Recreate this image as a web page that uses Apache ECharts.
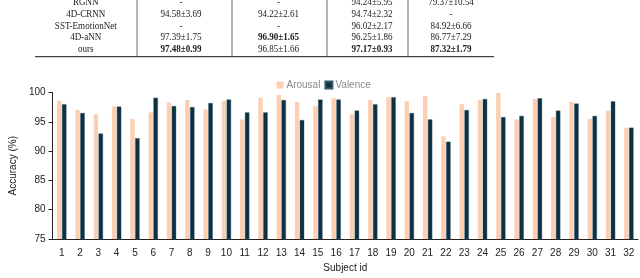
<!DOCTYPE html>
<html><head><meta charset="utf-8">
<style>html,body{margin:0;padding:0;background:#fff;}#c{width:640px;height:278px;}</style>
<script src="https://cdn.jsdelivr.net/npm/echarts@6/dist/echarts.min.js"></script>
</head><body><div id="c"></div>
<script>
var subjects = ['1','2','3','4','5','6','7','8','9','10','11','12','13','14','15','16','17','18','19','20','21','22','23','24','25','26','27','28','29','30','31','32'];
var arousal = [98.6,97.0,96.3,97.6,95.5,96.6,98.3,98.7,97.1,98.6,95.4,99.1,99.6,98.4,97.7,99.0,96.3,98.7,99.2,98.5,99.4,92.5,98.0,98.7,99.9,95.4,98.9,95.8,98.4,95.5,96.9,94.0];
var valence = [98.0,96.5,93.0,97.6,92.2,99.1,97.7,97.5,98.2,98.8,96.6,96.6,98.7,95.3,98.8,98.8,96.9,98.0,99.2,96.5,95.4,91.6,97.0,98.9,95.8,96.0,99.0,96.9,98.1,96.0,98.5,94.0];
var yTicks = [75,80,85,90,95,100];
// table fragment above the chart
var tableMethods = ['RGNN','4D-CRNN','SST-EmotionNet','4D-aNN','ours'];
var tableCol1 = ['-','94.58±3.69','-','97.39±1.75','97.48±0.99'];
var tableCol2 = ['-','94.22±2.61','-','96.90±1.65','96.85±1.66'];
var tableCol3 = ['94.24±5.95','94.74±2.32','96.02±2.17','96.25±1.86','97.17±0.93'];
var tableCol4 = ['79.37±10.54','-','84.92±6.66','86.77±7.29','87.32±1.79'];
var tableBold = [[],[],[],[2],[1,3,4]];

var colX = [85.8,181,278.5,372,451];
var rowY0 = 2.6, rowH = 11.65;
var graphics = [];
var cols = [tableMethods, tableCol1, tableCol2, tableCol3, tableCol4];
for (var r = 0; r < tableMethods.length; r++) {
  for (var c = 0; c < cols.length; c++) {
    var bold = tableBold[r].indexOf(c) >= 0;
    graphics.push({
      type: 'text', x: colX[c], y: rowY0 + r * rowH, scaleX: 0.86,
      style: { text: cols[c][r], font: (bold ? 'bold ' : '') + '10.5px "Liberation Serif"', fill: '#222', textAlign: 'center', textVerticalAlign: 'middle' }
    });
  }
}
[137, 232, 327, 408].forEach(function (x) {
  graphics.push({ type: 'line', shape: { x1: x, y1: 0, x2: x, y2: 56.7 }, style: { stroke: '#444', lineWidth: 0.8 } });
});
graphics.push({ type: 'line', shape: { x1: 35, y1: 56.7, x2: 494, y2: 56.7 }, style: { stroke: '#444', lineWidth: 1.2 } });

var chart = echarts.init(document.getElementById('c'), null, { renderer: 'canvas' });
chart.setOption({
  animation: false,
  graphic: graphics,
  textStyle: { fontFamily: '"Liberation Sans", Arial, sans-serif' },
  legend: {
    data: ['Arousal', 'Valence'], left: 276.5, top: 80, padding: 0, itemWidth: 7, itemHeight: 7, itemGap: 4,
    icon: 'rect',
    textStyle: { color: '#8a8a8a', fontSize: 10, padding: [0, 0, 0, -2] }
  },
  grid: { left: 37, right: 2, top: 92.5, bottom: 35, containLabel: false },
  xAxis: {
    type: 'category', data: subjects,
    name: 'Subject id', nameLocation: 'middle', nameGap: 24,
    nameTextStyle: { color: '#222', fontSize: 10 },
    axisLine: { lineStyle: { color: '#222', width: 1 } },
    axisTick: { length: 3, lineStyle: { color: '#222' } },
    axisLabel: { color: '#222', fontSize: 10, margin: 9, interval: 0 }
  },
  yAxis: {
    type: 'value', min: 75, max: 100, interval: 5,
    name: 'Accuracy (%)', nameLocation: 'middle', nameGap: 28,
    nameTextStyle: { color: '#222', fontSize: 10 },
    axisLine: { show: true, lineStyle: { color: '#222', width: 1 } },
    axisTick: { show: true, length: 4, lineStyle: { color: '#222' } },
    axisLabel: { color: '#222', fontSize: 10, margin: 7,
      formatter: function (v) { return yTicks.indexOf(v) >= 0 ? String(v) : ''; } },
    splitLine: { show: false }
  },
  series: [
    { name: 'Arousal', type: 'bar', data: arousal, barWidth: 4.4, barGap: '12%',
      itemStyle: { color: '#fccfb3' } },
    { name: 'Valence', type: 'bar', data: valence, barWidth: 4.4,
      itemStyle: { color: '#0d3142', borderColor: '#36586a', borderWidth: 0.4 } }
  ]
});
</script></body></html>
